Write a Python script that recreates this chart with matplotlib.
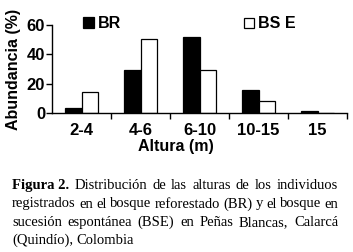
import numpy as np
import matplotlib.pyplot as plt
from matplotlib.patches import Rectangle

# --- data ---
categories = ["2-4", "4-6", "6-10", "10-15", "15"]
br_values = [3.4, 29.5, 52, 16, 1.3]
bse_values = [14, 50.5, 29.5, 8.5, 0]
series_names = ["BR", "BS E"]
caption_lines = [
    [("Figura 2.", "bold"), ("Distribución", "normal"), ("de", "normal"), ("las", "normal"),
     ("alturas", "normal"), ("de", "normal"), ("los", "normal"), ("individuos", "normal")],
    [(w, "normal") for w in "registrados en el bosque reforestado (BR) y el bosque en".split()],
    [(w, "normal") for w in "sucesión espontánea (BSE) en Peñas Blancas, Calarcá".split()],
    [(w, "normal") for w in "(Quindío), Colombia".split()],
]

W, H = 353, 252
plt.rcParams['font.family'] = ['Liberation Sans', 'DejaVu Sans']
fig = plt.figure(figsize=(W / 100, H / 100), dpi=100)
fig.patch.set_facecolor("white")

# axes placed in pixel terms
ax_l, ax_r, ax_b, ax_t = 52, 347, 113, 25
ax = fig.add_axes([ax_l / W, 1 - ax_b / H, (ax_r - ax_l) / W, (ax_b - ax_t) / H])

x = np.arange(len(categories))
bw = 0.28
ax.bar(x - bw / 2, br_values, bw, color="black", edgecolor="black", linewidth=0.9)
ax.bar(x + bw / 2, bse_values, bw, color="white", edgecolor="black", linewidth=0.9)

ax.set_xlim(-0.5, 4.5)
ax.set_ylim(0, 60)
ax.set_yticks([0, 20, 40, 60])
ax.set_xticks(x)
ax.set_xticklabels(categories)
ax.set_xticks(np.arange(0.5, 4.6, 1), minor=True)
ax.tick_params(axis="x", which="major", length=0, pad=7)
ax.tick_params(axis="x", which="minor", length=4, width=1)
ax.tick_params(axis="y", length=4, width=1, pad=1)
for lab in ax.get_xticklabels() + ax.get_yticklabels():
    lab.set_fontsize(12)
    lab.set_fontweight("bold")
for s in ["top", "right"]:
    ax.spines[s].set_visible(False)
for s in ["left", "bottom"]:
    ax.spines[s].set_linewidth(1.0)

ax.set_xlabel("Altura (m)", fontsize=11.5, fontweight="bold")
ax.xaxis.set_label_coords((176 - ax_l) / (ax_r - ax_l), -0.30)
ax.set_ylabel("Abundancia (%)", fontsize=11.5, fontweight="bold")
ax.yaxis.set_label_coords(-0.105, 0.49)

# legend drawn by hand
def legend_item(x0, size, face, label, tx):
    fig.patches.append(Rectangle((x0 / W, 1 - 28 / H), size / W, size / H,
                                 facecolor=face, edgecolor="black", linewidth=0.9,
                                 transform=fig.transFigure))
    fig.text(tx / W, 1 - 23 / H, label, fontsize=11.5, fontweight="bold",
             ha="left", va="center")

legend_item(83, 11, "black", series_names[0], 98)
legend_item(244, 10, "white", series_names[1], 258)

# caption, justified word by word
renderer = fig.canvas.get_renderer()
cap_size = 10.5
x_left, x_right = 12, 338
baselines = [189, 207.5, 226, 244]
for i, (line, yb) in enumerate(zip(caption_lines, baselines)):
    texts = [fig.text(0, 0, w, fontsize=cap_size, fontweight=wt,
                      family="Liberation Serif", va="baseline", ha="left")
             for w, wt in line]
    widths = [t.get_window_extent(renderer).width for t in texts]
    if i < len(caption_lines) - 1:
        gap = (x_right - x_left - sum(widths)) / (len(texts) - 1)
    else:
        gap = 3.0
    xp = x_left
    for t, wd in zip(texts, widths):
        t.set_position((xp / W, 1 - yb / H))
        xp += wd + gap

fig.savefig("out.png", dpi=100, facecolor="white")
